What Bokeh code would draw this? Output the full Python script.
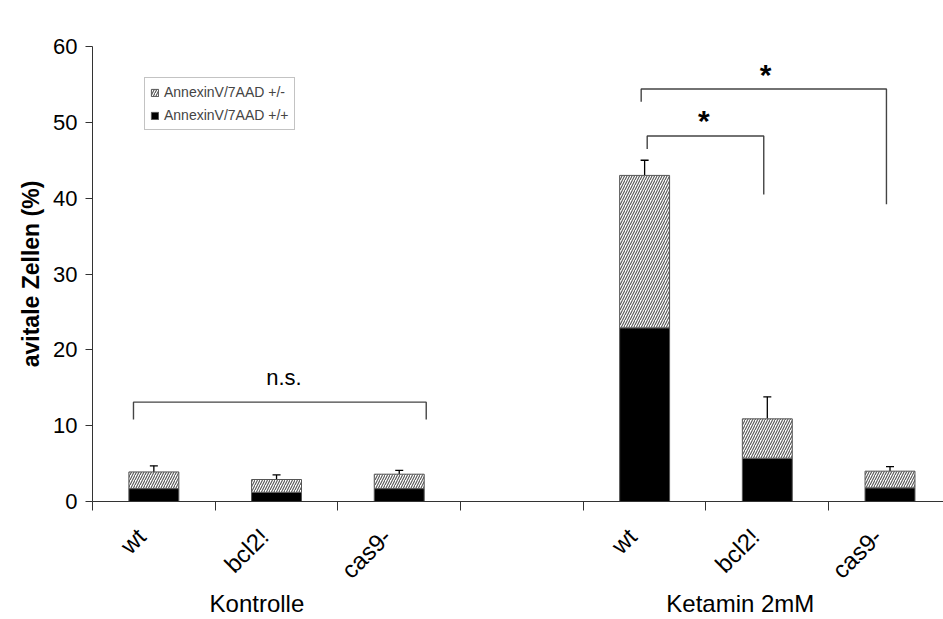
import math
from bokeh.plotting import figure
from bokeh.models import (ColumnDataSource, Range1d, FixedTicker, Whisker, TeeHead,
                          Legend, LegendItem, LinearAxis)
from bokeh.core.properties import value
from bokeh.embed import file_html
from bokeh.resources import INLINE

# ---------------- data ----------------
groups = ["Kontrolle", "Ketamin 2mM"]
strains = ["wt", "bcl2!", "cas9-"]
# AnnexinV/7AAD +/+ (black, bottom)
kontrolle_double = [1.7, 1.2, 1.7]
ketamin_double = [22.9, 5.7, 1.8]
# AnnexinV/7AAD +/- (hatched, stacked on top)
kontrolle_single = [2.2, 1.7, 1.9]
ketamin_single = [20.1, 5.2, 2.2]
# error (upward) on total
kontrolle_err = [0.8, 0.6, 0.5]
ketamin_err = [2.0, 2.9, 0.6]
y_ticks = [0, 10, 20, 30, 40, 50, 60]

# significance annotations
sig_labels = ["n.s.", "*", "*"]

FONT = "Liberation Sans"

# slot layout: 3 strains, gap slot, 3 strains
slot_idx = [0, 1, 2, 4, 5, 6]
xs = [i + 0.5 for i in slot_idx]
double = kontrolle_double + ketamin_double
single = kontrolle_single + ketamin_single
err = kontrolle_err + ketamin_err
total = [d + s for d, s in zip(double, single)]
src = ColumnDataSource(dict(
    x=xs, zero=[0] * 6, double=double, total=total,
    errtop=[t + e for t, e in zip(total, err)]))

p = figure(width=943, height=619, output_backend="svg", toolbar_location=None,
           x_range=Range1d(0, 6.936), y_range=Range1d(0, 60),
           min_border_left=92, min_border_right=0, min_border_top=46,
           min_border_bottom=117)
p.outline_line_color = None
p.xgrid.grid_line_color = None
p.ygrid.grid_line_color = None
p.background_fill_color = "white"

bw = 0.407
r_black = p.vbar(x="x", bottom="zero", top="double", width=bw, source=src,
                 fill_color="black", line_color="#555555", line_width=1)
r_hatch = p.vbar(x="x", bottom="double", top="total", width=bw, source=src,
                 fill_color="white", line_color="#555555", line_width=1,
                 hatch_pattern="/", hatch_color="#555555", hatch_scale=5,
                 hatch_weight=1.1)

p.add_layout(Whisker(source=src, base="x", lower="total", upper="errtop",
                     line_color="black", line_width=1.3, lower_head=None,
                     upper_head=TeeHead(size=8, line_color="black", line_width=1.3)))

# brackets
bx = [[0.334, 0.334, 2.72, 2.72],
      [4.472, 4.472, 6.471, 6.471],
      [4.521, 4.521, 5.471, 5.471]]
by = [[10.8, 13.1, 13.1, 10.8],
      [52.7, 54.4, 54.4, 39.2],
      [46.5, 48.2, 48.2, 40.5]]
p.multi_line(xs=bx, ys=by, line_color="#444444", line_width=1.4)

p.text(x=[1.56], y=[16.3], text=[sig_labels[0]], text_align="center",
       text_baseline="alphabetic", text_font=value(FONT), text_font_size="22px",
       text_color="black")
p.text(x=[5.485, 4.982], y=[56.3, 50.3], text=sig_labels[1:], text_align="center",
       text_baseline="alphabetic", text_font=value(FONT), text_font_size="30px",
       text_font_style="bold", text_color="black")

# axes
p.yaxis.ticker = FixedTicker(ticks=y_ticks)
p.yaxis.axis_label = "avitale Zellen (%)"
p.yaxis.axis_label_text_font = FONT
p.yaxis.axis_label_text_font_style = "bold"
p.yaxis.axis_label_text_font_size = "23px"
p.yaxis.axis_label_text_color = "black"
p.yaxis.axis_label_standoff = 6
p.yaxis.major_label_text_font = FONT
p.yaxis.major_label_text_font_size = "22px"
p.yaxis.major_label_text_color = "black"
p.yaxis.major_tick_out = 7
p.yaxis.major_tick_in = 0
p.yaxis.minor_tick_line_color = None
p.yaxis.axis_line_color = "#333333"
p.yaxis.major_tick_line_color = "#333333"
p.yaxis.major_label_standoff = 8

label_pos = [x - 0.10 for x in xs]
p.xaxis.ticker = FixedTicker(ticks=label_pos, minor_ticks=list(range(0, 8)))
p.xaxis.major_label_overrides = {x: s for x, s in zip(label_pos, strains * 2)}
p.xaxis.major_label_orientation = math.pi / 4
p.xaxis.major_label_text_font = FONT
p.xaxis.major_label_text_font_size = "24px"
p.xaxis.major_label_text_color = "black"
p.xaxis.major_tick_line_color = None
p.xaxis.major_tick_out = 9
p.xaxis.major_label_standoff = 22
p.xaxis.minor_tick_out = 9
p.xaxis.minor_tick_in = 0
p.xaxis.minor_tick_line_color = "#333333"
p.xaxis.axis_line_color = "#333333"

# group labels as a second, tickless axis
group_pos = [1.34, 5.28]
gaxis = LinearAxis(ticker=FixedTicker(ticks=group_pos, minor_ticks=[]),
                   major_label_overrides={x: g for x, g in zip(group_pos, groups)},
                   axis_line_color=None, major_tick_line_color=None,
                   minor_tick_line_color=None, major_tick_out=0, major_tick_in=0,
                   major_label_standoff=-7, major_label_text_font=FONT,
                   major_label_text_font_size="24px", major_label_text_color="black")
p.add_layout(gaxis, "below")

legend = Legend(items=[LegendItem(label="AnnexinV/7AAD +/-", renderers=[r_hatch]),
                       LegendItem(label="AnnexinV/7AAD +/+", renderers=[r_black])],
                location=(52, 371), label_text_font=FONT, label_text_font_size="14px",
                glyph_width=9, glyph_height=9, label_standoff=5, padding=5,
                spacing=5, label_height=18, border_line_color="#888888",
                background_fill_alpha=1.0, margin=0)
p.add_layout(legend)

open("out.html", "w").write(file_html(p, INLINE))
